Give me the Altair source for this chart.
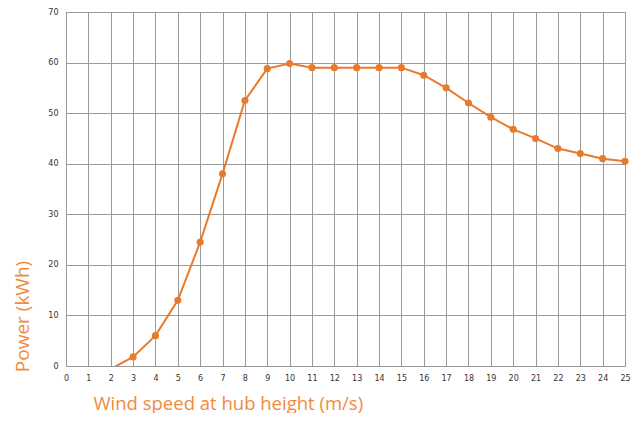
import altair as alt
import pandas as pd

wind = [2, 3, 4, 5, 6, 7, 8, 9, 10, 11, 12, 13, 14, 15, 16, 17, 18, 19, 20, 21, 22, 23, 24, 25]
power = [-0.6, 1.8, 6.0, 13.0, 24.5, 38.0, 52.5, 58.8, 59.8, 59.0, 59.0, 59.0, 59.0, 59.0,
         57.5, 55.0, 52.0, 49.2, 46.8, 45.0, 43.0, 42.0, 41.0, 40.5]
marker = [False] + [True] * (len(wind) - 1)
x_ticks = list(range(0, 26))
y_ticks = list(range(0, 71, 10))

df = pd.DataFrame({"wind": wind, "power": power, "marker": marker})

orange = "#E87A2C"
title_orange = "#F28A3C"

x = alt.X("wind:Q", scale=alt.Scale(domain=[0, 25], nice=False),
          axis=alt.Axis(values=x_ticks, title="Wind speed at hub height (m/s)",
                        grid=True, ticks=False, domain=False, labelFontSize=8, labelColor="#333",
                        labelPadding=8, labelFont="DejaVu Sans", labelOverlap=False,
                        titleFont="Open Sans", titleFontSize=18.5, titleFontWeight="normal",
                        titleColor=title_orange, titleAlign="left", titleBaseline="alphabetic",
                        titleX=27, titleY=43, labelFlush=False))
y = alt.Y("power:Q", scale=alt.Scale(domain=[0, 70], nice=False),
          axis=alt.Axis(values=y_ticks, title="Power  (kWh)",
                        grid=True, ticks=False, domain=False, labelFontSize=8, labelColor="#333",
                        labelPadding=8, labelFont="DejaVu Sans", labelOverlap=False,
                        titleFont="Open Sans", titleFontSize=19, titleFontWeight="normal",
                        titleColor=title_orange, titleAngle=270, titleAlign="center",
                        titleBaseline="middle", titleX=-44, titleY=304))

base = alt.Chart(df).encode(x=x, y=y)
line = base.mark_line(color=orange, strokeWidth=2, clip=True)
pts = base.transform_filter("datum.marker").mark_circle(color=orange, size=50, opacity=1)

chart = alt.layer(line, pts).properties(
    width=559, height=354,
    autosize=alt.AutoSizeParams(type="none"),
    padding={"left": 58, "top": 4, "right": 7, "bottom": 47},
    background="white",
).configure_view(stroke="#9a9a9a", strokeWidth=1).configure_axis(
    gridColor="#9a9a9a", gridWidth=1, gridOpacity=1)

chart.save("out.html", embed_options={"renderer": "svg", "actions": False})
